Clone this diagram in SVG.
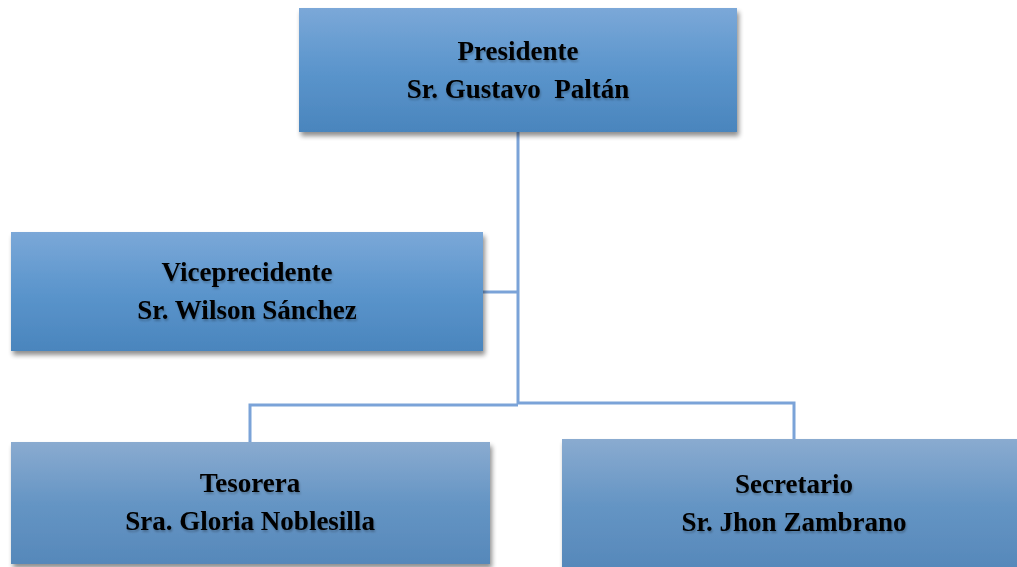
<svg xmlns="http://www.w3.org/2000/svg" width="1017" height="567" viewBox="0 0 1017 567">
<defs>
<linearGradient id="gA" x1="0" y1="0" x2="0" y2="1">
<stop offset="0" stop-color="#7ba8d8"/>
<stop offset="0.5" stop-color="#5b95cc"/>
<stop offset="1" stop-color="#4a85bd"/>
</linearGradient>
<linearGradient id="gB" x1="0" y1="0" x2="0" y2="1">
<stop offset="0" stop-color="#8aabd0"/>
<stop offset="0.5" stop-color="#6595c4"/>
<stop offset="1" stop-color="#5688ba"/>
</linearGradient>
<filter id="sh" x="-5%" y="-10%" width="112%" height="125%">
<feGaussianBlur in="SourceAlpha" stdDeviation="2.5"/>
<feOffset dx="2" dy="4" result="b"/>
<feComponentTransfer><feFuncA type="linear" slope="0.45"/></feComponentTransfer>
<feMerge><feMergeNode/><feMergeNode in="SourceGraphic"/></feMerge>
</filter>
<filter id="tsh" x="-5%" y="-20%" width="110%" height="150%">
<feGaussianBlur in="SourceAlpha" stdDeviation="1"/>
<feOffset dx="1" dy="1.5"/>
<feComponentTransfer><feFuncA type="linear" slope="0.25"/></feComponentTransfer>
<feMerge><feMergeNode/><feMergeNode in="SourceGraphic"/></feMerge>
</filter>
</defs>
<style>
.t{font-family:"Liberation Serif","Times New Roman",serif;font-weight:bold;font-size:27px;fill:#000;text-anchor:middle}
.c{fill:none;stroke:#7ba3d8;stroke-width:3}
</style>
<g id="connectors">
<path class="c" d="M518 132 V404"/>
<path class="c" d="M483 292 H518"/>
<path class="c" d="M250 442 V405 H518"/>
<path class="c" d="M518 403 H794 V439"/>
</g>
<g id="presidente">
<rect x="299" y="8" width="438" height="124" fill="url(#gA)" filter="url(#sh)"/>
<g filter="url(#tsh)"><text class="t" x="518" y="60">Presidente</text>
<text class="t" x="518" y="98" xml:space="preserve">Sr. Gustavo  Paltán</text></g>
</g>
<g id="vicepresidente">
<rect x="11" y="232" width="472" height="119" fill="url(#gA)" filter="url(#sh)"/>
<g filter="url(#tsh)"><text class="t" x="247" y="281">Viceprecidente</text>
<text class="t" x="247" y="319">Sr. Wilson Sánchez</text></g>
</g>
<g id="tesorera">
<rect x="11" y="442" width="479" height="122" fill="url(#gB)" filter="url(#sh)"/>
<g filter="url(#tsh)"><text class="t" x="250" y="492">Tesorera</text>
<text class="t" x="250" y="530">Sra. Gloria Noblesilla</text></g>
</g>
<g id="secretario">
<rect x="562" y="439" width="460" height="130" fill="url(#gB)" filter="url(#sh)"/>
<g filter="url(#tsh)"><text class="t" x="794" y="493">Secretario</text>
<text class="t" x="794" y="531">Sr. Jhon Zambrano</text></g>
</g>
</svg>
